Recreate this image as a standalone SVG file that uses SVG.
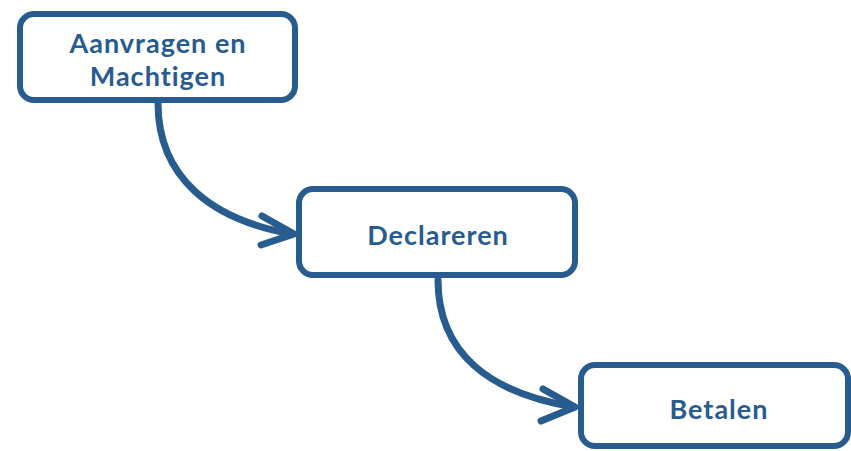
<svg xmlns="http://www.w3.org/2000/svg" width="851" height="451" viewBox="0 0 851 451">
<style>
.box{fill:#fff;stroke:#285C8F;stroke-width:6}
.lbl{font-family:Lato,"Open Sans","Liberation Sans",sans-serif;font-weight:bold;font-size:27px;letter-spacing:1px;fill:#285C8F;text-anchor:middle}
.con{fill:none;stroke:#285C8F;stroke-width:7;stroke-linecap:round;stroke-linejoin:round}
</style>
<rect width="851" height="451" fill="#fff"/>
<g id="connectors">
<path class="con" d="M158,103 C158,178 212,220 292,234"/>
<path class="con" d="M262,216 L294,234 L261,245"/>
<path class="con" d="M438,280 C438,352 488,393 574,407"/>
<path class="con" d="M543,389 L575,407 L541,421"/>
</g>
<g id="n1">
<rect class="box" x="20" y="14" width="275" height="86" rx="14"/>
<text class="lbl" x="158" y="53">Aanvragen en</text>
<text class="lbl" x="158" y="86">Machtigen</text>
</g>
<g id="n2">
<rect class="box" x="299" y="189" width="276" height="86" rx="14"/>
<text class="lbl" x="438" y="245">Declareren</text>
</g>
<g id="n3">
<rect class="box" x="581" y="365" width="267" height="81" rx="14"/>
<text class="lbl" x="719" y="419">Betalen</text>
</g>
</svg>
